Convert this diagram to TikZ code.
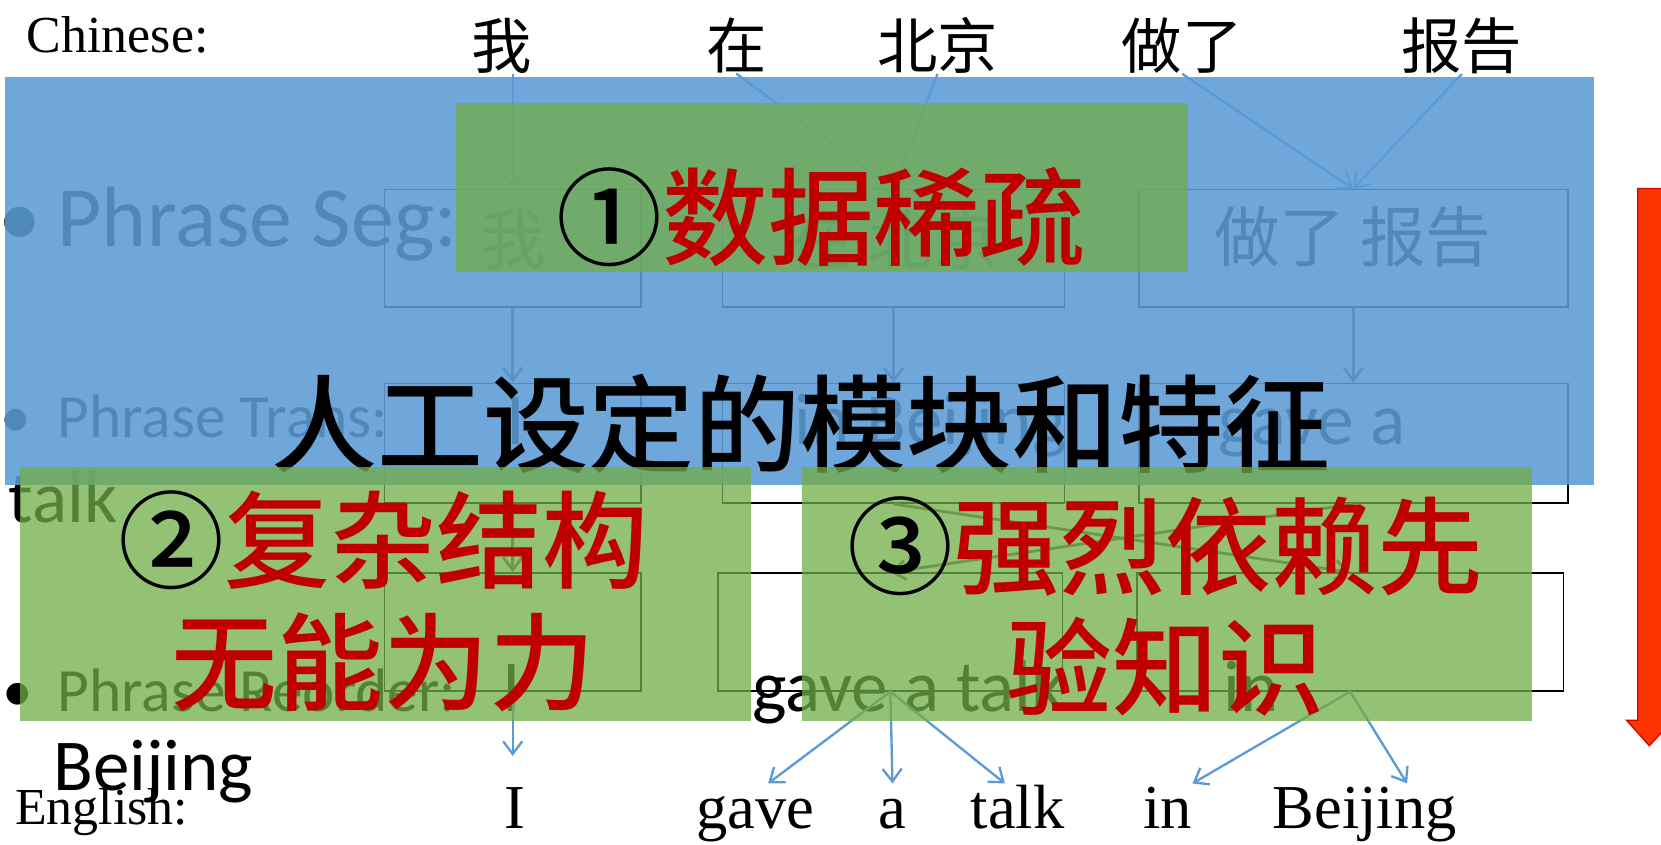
\documentclass[tikz,border=0pt]{standalone}
\usepackage{fontspec}
\setmainfont{Liberation Serif}
\newfontfamily\cjk[BoldFont={* Medium}]{Noto Sans CJK SC}
\newfontfamily\calib{Carlito}
\usetikzlibrary{arrows.meta}
\definecolor{pblue}{HTML}{5B9BD5}
\definecolor{pgreen}{HTML}{70AD47}
\definecolor{pred}{HTML}{C00000}
\definecolor{redarrow}{HTML}{FF3300}
\newcommand{\fsz}[1]{\fontsize{#1pt}{#1pt}\selectfont}

\begin{document}
\begin{tikzpicture}[
  x=0.5pt, y=-0.5pt,
  tag/.style={inner sep=0pt, anchor=base west, font=\fsz{24.5}},
  cnword/.style={inner sep=0pt, font=\cjk\fsz{28.5}},
  enword/.style={inner sep=0pt, anchor=base west, font=\fsz{29.5}, text height=21pt},
  phrlabel/.style={inner sep=0pt, anchor=base west, font=\calib\fsz{29}},
  phrword/.style={inner sep=0pt, anchor=base west, font=\calib\fsz{34.5}},
  segtext/.style={inner sep=0pt, font=\cjk\fsz{31}},
  phrbox/.style={draw=black, line width=0.8pt, minimum height=55.5pt, inner sep=0pt},
  arr/.style={-{Straight Barb[length=6pt,width=9pt]}, line width=1.1pt, pblue},
  garr/.style={-{Straight Barb[length=6pt,width=9pt]}, line width=1.3pt, black!65},
  bluecover/.style={fill=pblue, fill opacity=0.88, inner sep=0pt},
  greencover/.style={fill=pgreen, fill opacity=0.75, inner sep=0pt, minimum height=120pt},
  bigtxt/.style={inner sep=0pt, font=\cjk\bfseries\fontsize{50pt}{57.5pt}\selectfont, text=pred, align=center}
]
\useasboundingbox (0,0) rectangle (1568,797);

% Source and target sentences
\node[tag] (chn) at (25,50) {Chinese:};
\node[tag] (eng) at (14,778) {English:};

\node[cnword] (w1) at (474,43) {我};
\node[cnword] (w2) at (695,43) {在};
\node[cnword] (w3) at (885,43) {北京};
\node[cnword] (w4) at (1116,43) {做了};
\node[cnword] (w5) at (1380,43) {报告};

\node[enword] (e1) at (476,782) {I};
\node[enword] (e2) at (657,782) {gave};
\node[enword] (e3) at (829,782) {a};
\node[enword] (e4) at (916,782) {talk};
\node[enword] (e5) at (1079,782) {in};
\node[enword] (e6) at (1201,782) {Beijing};

% Bullet lines of the slide
\node[phrlabel, font=\calib\fsz{40.5}] (bseg) at (-2,233) {•};
\node[phrlabel, font=\calib\fsz{40.5}] (lseg) at (54,233) {Phrase Seg:};
\node[phrlabel] (btrans) at (0,413) {•};
\node[phrlabel] (ltrans) at (54,413) {Phrase Trans:};
\node[phrlabel] (breord) at (2,672) {•};
\node[phrlabel] (lreord) at (54,672) {Phrase Reorder:};

\node[segtext] (ts1) at (485,226) {我};
\node[segtext] (ts2) at (843,226) {在 北京};
\node[segtext] (ts3) at (1277,224) {做了 报告};

\node[phrword] (tt1) at (478,420) {I};
\node[phrword] (tt2) at (750,420) {in Beijing};
\node[phrword] (tt3) at (1150,420) {gave a};
\node[phrword] (tt4) at (8,493) {talk};

\node[phrword] (tr1) at (474,672) {I};
\node[phrword] (tr2) at (710,672) {gave a talk};
\node[phrword] (tr3) at (1155,672) {in};
\node[phrword] (tr4) at (50,746) {Beijing};

% Phrase boxes
\node[phrbox, minimum width=121pt] (s1) at (484,234.5) {};
\node[phrbox, minimum width=161.5pt] (s2) at (843.5,234.5) {};
\node[phrbox, minimum width=202.5pt] (s3) at (1277.5,234.5) {};
\node[phrbox, minimum width=121pt, minimum height=56.5pt] (t1) at (484,418.5) {};
\node[phrbox, minimum width=161.5pt, minimum height=56.5pt] (t2) at (843.5,418.5) {};
\node[phrbox, minimum width=202.5pt, minimum height=56.5pt] (t3) at (1277.5,418.5) {};
\node[phrbox, minimum width=121pt] (r1) at (484,596.5) {};
\node[phrbox, minimum width=162.5pt] (r2) at (840.5,596.5) {};
\node[phrbox, minimum width=201.5pt] (r3) at (1274.5,596.5) {};

% Arrows
\draw[arr] (w1.south -| s1.north) -- (s1.north);
\draw[arr] (w2.south) -- (s2.north);
\draw[arr] (w3.south) -- (s2.north);
\draw[arr] (w4.south) -- (s3.north);
\draw[arr] (w5.south) -- (s3.north);

\draw[garr] (s1.south) -- (t1.north);
\draw[garr] (s2.south) -- (t2.north);
\draw[garr] (s3.south) -- (t3.north);
\draw[garr] (t1.south) -- (r1.north);
\draw[garr] (t2.south) -- (r3.north);
\draw[garr] (t3.south) -- (r2.north);

\draw[arr, shorten >=13pt] (r1.south) -- (r1.south |- e1.north);
\draw[arr] (r2.south) -- ([xshift=6pt]e2.north);
\draw[arr] (r2.south) -- (e3.north);
\draw[arr] (r2.south) -- ([xshift=-6pt]e4.north);
\draw[arr] (r3.south) -- (e5.north east);
\draw[arr] (r3.south) -- ([xshift=20pt]e6.north);

% Overlays
\node[bluecover, minimum width=750pt, minimum height=192.5pt] (blue) at (755,265.5) {};
\node[inner sep=0pt, font=\cjk\bfseries\fsz{50}] (manual) at (756,400) {人工设定的模块和特征};

\node[greencover, minimum width=345.5pt, minimum height=79.75pt] (g1) at (775.5,176.75) {};
\node[greencover, minimum width=345pt] (g2) at (364,561) {};
\node[greencover, minimum width=344.5pt] (g3) at (1101.5,561) {};

\node[bigtxt] (sparse) at (775,205) {\textcolor{black}{①}数据稀疏};
\node[bigtxt] (struct) at (362,567.5) {\textcolor{black}{②}复杂结构\\无能为力};
\node[bigtxt] (prior) at (1100,572.5) {\textcolor{black}{③}强烈依赖先\\验知识};

% Down arrow at the right edge
\filldraw[fill=redarrow, draw=red!85!black, line width=0.6pt]
  (1546,178) -- (1570,178) -- (1570,680) -- (1579,680) -- (1557,704)
  -- (1535.5,680) -- (1546,680) -- cycle;

\end{tikzpicture}
\end{document}
